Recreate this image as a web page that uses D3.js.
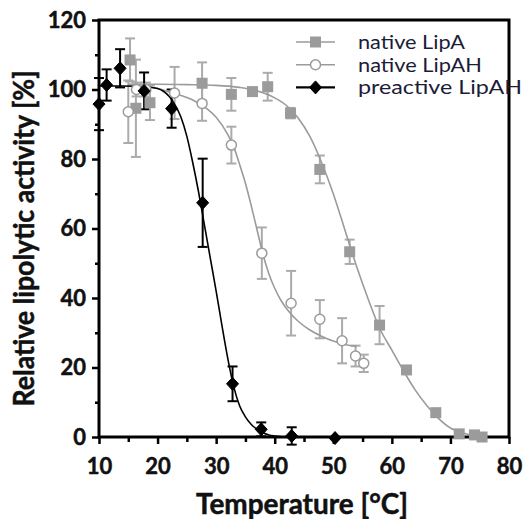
<!DOCTYPE html>
<html>
<head>
<meta charset="utf-8">
<script src="https://cdn.jsdelivr.net/npm/d3@7"></script>
<style>
  body { margin: 0; background: #fff; }
  svg { display: block; }
  text { font-family: Lato, "Open Sans", sans-serif; }
</style>
</head>
<body>
<div id="chart"></div>
<script>
// measured points (temperature in °C, activity in %, error = SD)
const lipaTemp = [15.3, 16.3, 18.7, 27.6, 32.6, 36.2, 38.8, 42.7, 47.7, 52.8, 57.9, 62.5, 67.5, 71.5, 74.1, 75.4];
const lipaAct = [108.5, 94.6, 96.2, 101.8, 98.6, 99.4, 100.8, 93.2, 77.0, 53.3, 32.2, 19.3, 7.0, 0.9, 0.6, 0.0];
const lipaErr = [6.2, 14, 5, 6, 4.7, 1, 4, 1.5, 4, 3.5, 5.5, 0, 0, 0, 0, 0];

const lipahTemp = [15.0, 16.4, 18.0, 22.9, 27.6, 32.6, 37.8, 42.8, 47.7, 51.5, 53.8, 55.2];
const lipahAct = [93.6, 100.0, 100.0, 99.0, 96.0, 84.0, 52.9, 38.5, 33.9, 27.7, 23.3, 21.2];
const lipahErr = [9, 2, 2, 7.5, 5, 5.3, 7.4, 9.3, 5.5, 6.5, 3, 2.5];

const preTemp = [10.0, 11.3, 13.6, 17.7, 22.4, 27.7, 32.8, 37.7, 42.9, 50.3];
const preAct = [95.8, 101.3, 106.1, 99.6, 94.5, 67.4, 15.3, 2.2, 0.3, -0.3];
const preErr = [7.5, 4.5, 5.5, 5.3, 5.5, 12.7, 5, 2, 2.5, 0];

// fitted curves
const lipaFitT = [15, 20, 25, 30, 34, 37, 40, 42, 44, 46, 48, 50, 52, 54, 56, 58, 60, 62, 64, 66, 68, 70, 72, 74, 75.5];
const lipaFitV = [101.5, 101.5, 101.4, 101.2, 100.6, 99.6, 97.6, 95.4, 91.8, 86.5, 79, 70, 59.5, 49, 39.5, 31, 25, 19, 13.5, 9, 5.3, 2.6, 1.2, 0.4, 0.1];
const lipahFitT = [15, 18, 20, 22, 24, 26, 28, 30, 32, 33, 34, 35, 36, 37, 38, 39, 40, 41, 42, 44, 46, 48, 50, 52, 54];
const lipahFitV = [101, 100.8, 100.3, 99.3, 98.3, 97, 95, 92, 87, 83.5, 78.5, 73, 66.5, 59.5, 52.5, 47, 42.8, 39.5, 37, 33.3, 30.8, 29, 27.6, 26.6, 26];
const preFitT = [10, 14, 18, 20, 21, 22, 23, 24, 25, 26, 27, 28, 29, 30, 31, 32, 33, 34, 35, 36, 37, 38, 39, 40, 41];
const preFitV = [101, 101, 100.8, 100.3, 99.5, 98, 95.5, 92, 86.5, 79, 70.5, 61, 51.5, 42, 32, 22.5, 14.5, 9, 5.8, 3.6, 2.2, 1.2, 0.6, 0.3, 0.1];

const xTicks = [10, 20, 30, 40, 50, 60, 70, 80];
const yTicks = [0, 20, 40, 60, 80, 100, 120];
const seriesNames = ["native LipA", "native LipAH", "preactive LipAH"];

const width = 531, height = 519;
const margin = { top: 20, right: 22, bottom: 82, left: 99 };

const svg = d3.select("#chart").append("svg")
  .attr("width", width)
  .attr("height", height);

const x = d3.scaleLinear().domain([10, 80]).range([margin.left, width - margin.right]);
const y = d3.scaleLinear().domain([0, 120]).range([height - margin.bottom, margin.top]);

const gray = "#9b9b9b", barGray = "#ababab";

// minor ticks
svg.append("g")
  .attr("transform", `translate(0,${y(0)})`)
  .call(d3.axisBottom(x).tickValues(d3.range(15, 80, 10)).tickSize(5).tickFormat(""))
  .call((g) => g.select(".domain").remove())
  .selectAll("line").attr("stroke-width", 2.5);
svg.append("g")
  .attr("transform", `translate(${x(10)},0)`)
  .call(d3.axisLeft(y).tickValues(d3.range(10, 120, 20)).tickSize(4).tickFormat(""))
  .call((g) => g.select(".domain").remove())
  .selectAll("line").attr("stroke-width", 2.5);

// major axes
const xAxis = svg.append("g")
  .attr("transform", `translate(0,${y(0)})`)
  .call(d3.axisBottom(x).tickValues(xTicks).tickSize(7).tickPadding(14).tickSizeOuter(0));
const yAxis = svg.append("g")
  .attr("transform", `translate(${x(10)},0)`)
  .call(d3.axisLeft(y).tickValues(yTicks).tickSize(7).tickPadding(6).tickSizeOuter(0));
[xAxis, yAxis].forEach((g) => {
  g.select(".domain").remove();
  g.selectAll("line").attr("stroke", "#000").attr("stroke-width", 2.5);
  g.selectAll("text")
    .attr("fill", "#111")
    .attr("stroke", "#111").attr("stroke-width", 0.5)
    .style("font-size", "22px")
    .style("font-weight", "bold");
});

// frame
svg.append("rect")
  .attr("x", x(10)).attr("y", y(120))
  .attr("width", x(80) - x(10)).attr("height", y(0) - y(120))
  .attr("fill", "none").attr("stroke", "#000").attr("stroke-width", 3);

// axis titles
svg.append("text")
  .attr("x", (x(10) + x(80)) / 2 - 2)
  .attr("y", 514)
  .attr("text-anchor", "middle")
  .attr("textLength", 212).attr("lengthAdjust", "spacingAndGlyphs")
  .style("font-size", "28px").style("font-weight", "bold")
  .attr("fill", "#111").attr("stroke", "#111").attr("stroke-width", 0.5)
  .text("Temperature [°C]");
svg.append("text")
  .attr("transform", `translate(34,${(y(0) + y(120)) / 2 + 10}) rotate(-90)`)
  .attr("text-anchor", "middle")
  .attr("textLength", 336).attr("lengthAdjust", "spacingAndGlyphs")
  .style("font-size", "28px").style("font-weight", "bold")
  .attr("fill", "#111").attr("stroke", "#111").attr("stroke-width", 0.5)
  .text("Relative lipolytic activity [%]");

const plot = svg.append("g");

function zip(ts, vs, es) {
  return ts.map((t, i) => ({ t, v: vs[i], e: es ? es[i] : 0 }));
}

const series = [
  { pts: zip(lipaTemp, lipaAct, lipaErr), fit: zip(lipaFitT, lipaFitV), color: gray, bar: barGray, kind: "square" },
  { pts: zip(lipahTemp, lipahAct, lipahErr), fit: zip(lipahFitT, lipahFitV), color: gray, bar: barGray, kind: "circle" },
  { pts: zip(preTemp, preAct, preErr), fit: zip(preFitT, preFitV), color: "#000", bar: "#000", kind: "diamond" },
];

// error bars
series.forEach((s) => {
  const eb = plot.append("g").attr("stroke", s.bar).attr("stroke-width", 2).attr("fill", "none");
  s.pts.filter((d) => d.e > 0).forEach((d) => {
    const cx = x(d.t);
    eb.append("line").attr("x1", cx).attr("x2", cx).attr("y1", y(d.v + d.e)).attr("y2", y(d.v - d.e));
    [d.v + d.e, d.v - d.e].forEach((v) => {
      eb.append("line").attr("x1", cx - 5).attr("x2", cx + 5).attr("y1", y(v)).attr("y2", y(v));
    });
  });
});

// fitted curves
const line = d3.line().x((d) => x(d.t)).y((d) => y(d.v)).curve(d3.curveMonotoneX);
series.forEach((s) => {
  plot.append("path")
    .attr("d", line(s.fit))
    .attr("fill", "none")
    .attr("stroke", s.color)
    .attr("stroke-width", 1.6);
});

function marker(g, kind, cx, cy, color) {
  if (kind === "square") {
    g.append("rect").attr("x", cx - 5.5).attr("y", cy - 5.5).attr("width", 11).attr("height", 11)
      .attr("fill", color);
  } else if (kind === "circle") {
    g.append("circle").attr("cx", cx).attr("cy", cy).attr("r", 5)
      .attr("fill", "#fff").attr("stroke", color).attr("stroke-width", 1.5);
  } else {
    g.append("path").attr("d", `M${cx},${cy - 6.5}L${cx + 6},${cy}L${cx},${cy + 6.5}L${cx - 6},${cy}Z`)
      .attr("fill", color).attr("stroke", color).attr("stroke-width", 1).attr("stroke-linejoin", "round");
  }
}

series.forEach((s) => {
  const mg = plot.append("g");
  s.pts.forEach((d) => marker(mg, s.kind, x(d.t), y(d.v), s.color));
});

// legend
const legendWidths = [107, 124, 164];
const legend = svg.append("g");
seriesNames.forEach((name, i) => {
  const s = series[i];
  const ly = 42 + i * 22.7;
  legend.append("line").attr("x1", 296).attr("x2", 335).attr("y1", ly).attr("y2", ly)
    .attr("stroke", s.color).attr("stroke-width", i === 2 ? 2.2 : 1.6);
  marker(legend, s.kind, 315.5, ly, s.color);
  legend.append("text")
    .attr("x", 358).attr("y", ly + 7)
    .attr("textLength", legendWidths[i]).attr("lengthAdjust", "spacingAndGlyphs")
    .style("font-size", "19.5px")
    .attr("fill", "#1c1c38")
    .text(name);
});
</script>
</body>
</html>
